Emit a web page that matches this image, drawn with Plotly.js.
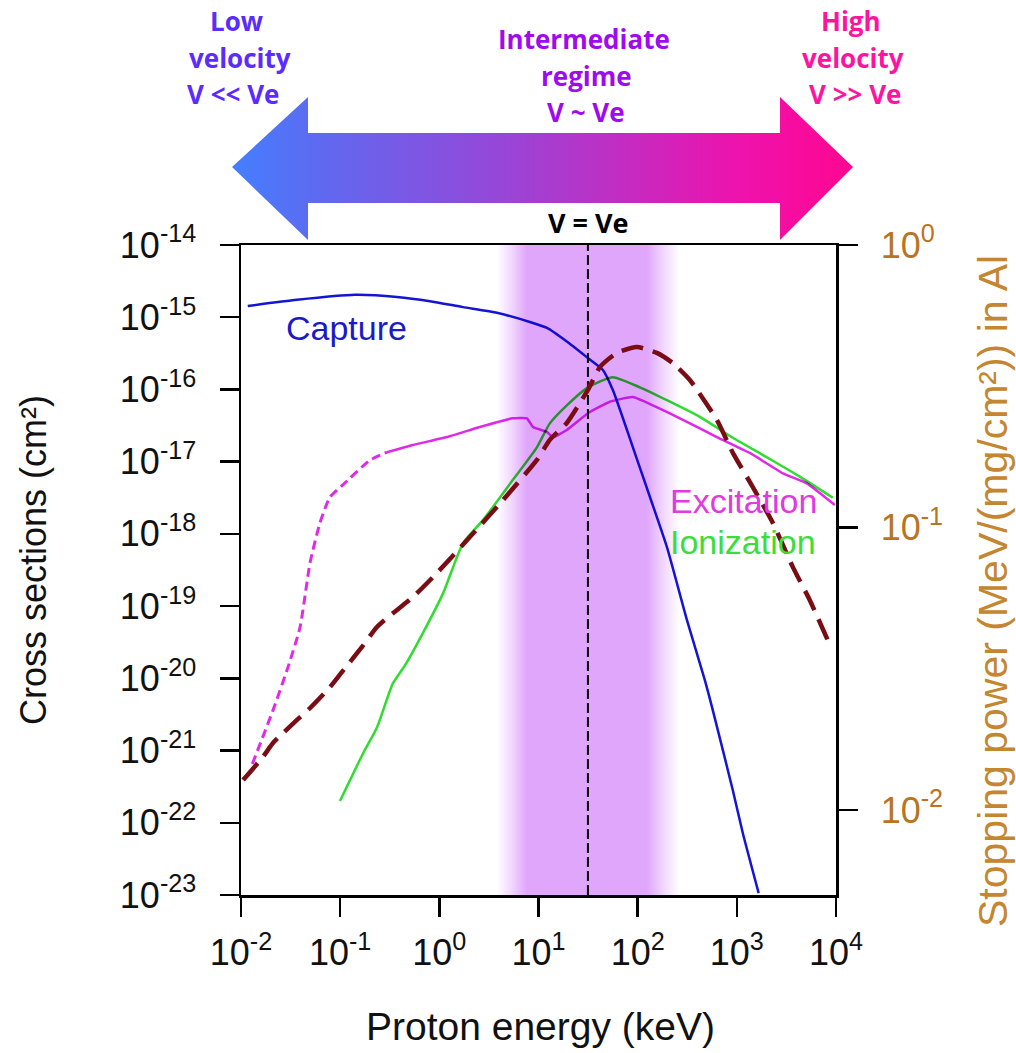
<!DOCTYPE html>
<html><head><meta charset="utf-8">
<script src="https://cdn.plot.ly/plotly-3.0.1.min.js"></script>
<style>
html,body{margin:0;padding:0;background:#fff}
#chart{width:1016px;height:1053px}
.traceion path.js-line,.tracecap path.js-line,.traceexc path.js-line{mix-blend-mode:multiply}
</style>
</head><body><div id="chart"></div>
<script>
// ---------- DATA ----------
const captureE     = [0.0117, 0.0367, 0.141, 0.374, 0.804, 1.73, 3.81, 8.18, 12.2, 19.3, 31.5, 44.6, 56.2, 89.5, 133, 197, 313, 475, 573, 912, 1148, 1660];
const captureSigma = [1.43e-15, 1.74e-15, 2.04e-15, 1.91e-15, 1.67e-15, 1.38e-15, 1.15e-15, 8.6e-16, 7.1e-16, 4.6e-16, 2.72e-16, 1.86e-16, 9.8e-17, 1.58e-17, 3.24e-18, 6.6e-19, 6.5e-20, 9.5e-21, 3.6e-21, 2.8e-22, 7.2e-23, 1.06e-23];

const excitLowE     = [0.013, 0.021, 0.0298, 0.0394, 0.0497, 0.0625, 0.0789, 0.107, 0.200, 0.296];
const excitLowSigma = [6.5e-22, 3.6e-21, 1.43e-20, 5.1e-20, 4.0e-19, 1.41e-18, 3.24e-18, 4.8e-18, 1.05e-17, 1.35e-17];
const excitE     = [0.296, 0.542, 1.19, 2.56, 5.52, 7.64, 8.79, 12.2, 14.0, 19.3, 31.5, 52.5, 89.5, 142, 286, 628, 1352, 2911, 5082, 9727];
const excitSigma = [1.35e-17, 1.70e-17, 2.19e-17, 3.02e-17, 3.98e-17, 3.98e-17, 3.02e-17, 2.57e-17, 2.19e-17, 2.75e-17, 4.68e-17, 6.76e-17, 7.85e-17, 6.03e-17, 3.80e-17, 2.19e-17, 1.32e-17, 6.9e-18, 5.0e-18, 2.51e-18];

const ionE     = [0.0995, 0.170, 0.235, 0.340, 0.450, 0.684, 1.09, 1.73, 2.75, 5.52, 9.64, 13.0, 19.3, 31.5, 56.2, 105, 197, 424, 912, 2004, 4315, 9290];
const ionSigma = [2.0e-22, 9.1e-22, 2.09e-21, 8.5e-21, 1.51e-20, 4.27e-20, 1.5e-19, 7.4e-19, 1.55e-18, 5.6e-18, 1.58e-17, 3.39e-17, 6.03e-17, 1.07e-16, 1.48e-16, 1.07e-16, 7.1e-17, 4.17e-17, 2.14e-17, 1.15e-17, 6.2e-18, 3.16e-18];

const stopE     = [0.0105, 0.01667, 0.021, 0.0367, 0.0497, 0.0789, 0.104, 0.166, 0.235, 0.374, 0.542, 0.946, 2.03, 4.38, 9.64, 13.0, 19.3, 31.5, 41.6, 61.7, 98.2, 156, 226, 336, 628, 912, 1449, 2307, 3673, 5445, 8670];
const stopPower = [0.01276, 0.01542, 0.01726, 0.02084, 0.02296, 0.02723, 0.03076, 0.03776, 0.04446, 0.05105, 0.05675, 0.06902, 0.09247, 0.1250, 0.1734, 0.2042, 0.2344, 0.3069, 0.3698, 0.4150, 0.4355, 0.4150, 0.3819, 0.3327, 0.2404, 0.1837, 0.1390, 0.1038, 0.0724, 0.0553, 0.0384];

const veEnergy = 31.5;                 // V = Ve (keV)
const bandCore = [7.6, 124];           // intermediate regime, full shade (keV)
const bandFade = [3.8, 266];           // outer edges of the fade (keV)

const xTickVals = [1e-2, 1e-1, 1, 10, 100, 1e3, 1e4];
const xTickText = ['10<sup>-2</sup>','10<sup>-1</sup>','10<sup>0</sup>','10<sup>1</sup>','10<sup>2</sup>','10<sup>3</sup>','10<sup>4</sup>'];
const yTickVals = [1e-23,1e-22,1e-21,1e-20,1e-19,1e-18,1e-17,1e-16,1e-15,1e-14];
const yTickText = ['10<sup>-23</sup>','10<sup>-22</sup>','10<sup>-21</sup>','10<sup>-20</sup>','10<sup>-19</sup>','10<sup>-18</sup>','10<sup>-17</sup>','10<sup>-16</sup>','10<sup>-15</sup>','10<sup>-14</sup>'];
const y2TickVals = [0.01, 0.1, 1];
const y2TickText = ['10<sup>-2</sup>','10<sup>-1</sup>','10<sup>0</sup>'];

// ---------- LAYOUT GEOMETRY (pixels) ----------
const W = 1016, H = 1053;
const box = {l: 241, r: 836, t: 245, b: 895};
const px = x => x / W, py = y => 1 - y / H;
const TOPH = 242; // height of the top arrow area (kept above the plot)
// double-headed arrow outline in pixel space of the top area
const arrowX = [232, 308, 308, 780, 780, 853, 780, 780, 308, 308, 232];
const arrowY = [167, 97, 133, 133, 97, 167, 240, 203, 203, 240, 167];

const AX = 'Arial, "Liberation Sans", sans-serif';
const OS = '"Open Sans", sans-serif';
const SM = 0.55;
const yLo = yTickVals[0], yHi = yTickVals[yTickVals.length - 1];

// band gradient stops (fractions along the log-x extent of the band)
const lg = Math.log10;
const span = lg(bandFade[1]) - lg(bandFade[0]);
const fA = (lg(bandCore[0]) - lg(bandFade[0])) / span;
const fB = (lg(bandCore[1]) - lg(bandFade[0])) / span;
const BAND = '224,166,252';
const bandScale = [[0, `rgba(${BAND},0)`], [fA * 0.5, `rgba(${BAND},0.45)`], [fA, `rgba(${BAND},1)`],
                   [fB, `rgba(${BAND},1)`], [fB + (1 - fB) * 0.5, `rgba(${BAND},0.45)`], [1, `rgba(${BAND},0)`]];

const traces = [
  { x: arrowX, y: arrowY, xaxis: 'x3', yaxis: 'y3', mode: 'lines', fill: 'toself',
    line: {width: 0, color: 'rgba(0,0,0,0)'},
    fillgradient: {type: 'horizontal', colorscale: [[0,'#447fff'],[0.12,'#5a6cf2'],[0.45,'#9a44d6'],[0.82,'#ee12ac'],[1,'#ff0690']]},
    hoverinfo: 'skip' },
  { x: [bandFade[0], bandFade[1], bandFade[1], bandFade[0], bandFade[0]], y: [yLo, yLo, yHi, yHi, yLo],
    mode: 'lines', fill: 'toself', line: {width: 0, color: 'rgba(0,0,0,0)'},
    fillgradient: {type: 'horizontal', colorscale: bandScale}, hoverinfo: 'skip' },
  { uid: 'cap', x: captureE, y: captureSigma, mode: 'lines', line: {color: '#1414d2', width: 2.5, shape: 'spline', smoothing: SM}, hoverinfo: 'skip' },
  { x: excitLowE, y: excitLowSigma, mode: 'lines', line: {color: '#e02ae8', width: 3, dash: '9px,5px', shape: 'spline', smoothing: SM}, hoverinfo: 'skip' },
  { uid: 'exc', x: excitE, y: excitSigma, mode: 'lines', line: {color: '#e02ae8', width: 2.5, shape: 'spline', smoothing: 0.4}, hoverinfo: 'skip' },
  { uid: 'ion', x: ionE, y: ionSigma, mode: 'lines', line: {color: '#30dc30', width: 2.5, shape: 'spline', smoothing: SM}, hoverinfo: 'skip' },
  { x: stopE, y: stopPower, yaxis: 'y2', mode: 'lines', line: {color: '#7a0c14', width: 4.5, dash: '22px,10px', shape: 'spline', smoothing: SM}, hoverinfo: 'skip' },
  { x: [veEnergy, veEnergy], y: [yLo, yHi], mode: 'lines', line: {color: '#000', width: 2, dash: '10px,4px'}, hoverinfo: 'skip' }
];

function ann(text, x, y, size, color, opts) {
  return Object.assign({text, x: px(x), y: py(y), xref: 'paper', yref: 'paper', showarrow: false,
    xanchor: 'center', yanchor: 'middle', font: {family: AX, size, color}}, opts || {});
}
const bold = (size, color) => ({family: OS, size, color, weight: 700});
const TS = 26;

const annotations = [
  // top regime labels
  ann('Low', 236, 21, TS, '#5a2cff', {font: bold(TS, '#5a2cff')}),
  ann('velocity', 240, 58, TS, '#5a2cff', {font: bold(TS, '#5a2cff')}),
  ann('V << Ve', 233, 94, TS, '#5a2cff', {font: bold(TS, '#5a2cff')}),
  ann('Intermediate', 584, 39, TS, '#a00af0', {font: bold(TS, '#a00af0')}),
  ann('regime', 586, 76, TS, '#a00af0', {font: bold(TS, '#a00af0')}),
  ann('V ~ Ve', 586, 112, TS, '#a00af0', {font: bold(TS, '#a00af0')}),
  ann('High', 851, 21, TS, '#ff14a0', {font: bold(TS, '#ff14a0')}),
  ann('velocity', 853, 58, TS, '#ff14a0', {font: bold(TS, '#ff14a0')}),
  ann('V >> Ve', 855, 94, TS, '#ff14a0', {font: bold(TS, '#ff14a0')}),
  ann('V = Ve', 588, 223, 27, '#000', {font: bold(27, '#000')}),
  // curve labels
  ann('Capture', 346, 328, 34, '#1a1ac8'),
  ann('Excitation', 668, 501, 34, '#e03ae0', {xanchor: 'left'}),
  ann('Ionization', 668, 542, 34, '#3ade3a', {xanchor: 'left'}),
  // axis titles
  ann('Cross sections (cm²)', 33, 560, 36, '#111', {textangle: -90}),
  ann('Proton energy (keV)', 540, 1026, 39, '#111'),
  ann('Stopping power (MeV/(mg/cm²)) in Al', 993, 591, 41, '#c4862e', {textangle: -90})
];

const axBase = {showline: true, linecolor: '#000', linewidth: 2.5, ticks: 'outside', ticklen: 19, tickwidth: 2.5,
  tickcolor: '#000', tickmode: 'array', showgrid: false, zeroline: false, fixedrange: true};

const layout = {
  width: W, height: H, margin: {l: 0, r: 0, t: 0, b: 0},
  paper_bgcolor: '#fff', plot_bgcolor: 'rgba(0,0,0,0)', showlegend: false,
  xaxis: Object.assign({}, axBase, {type: 'log', range: [-2, 4], domain: [px(box.l), px(box.r)], anchor: 'y',
    mirror: true, tickvals: xTickVals, ticktext: xTickText, ticklabelstandoff: 5,
    tickfont: {family: AX, size: 36, color: '#111'}}),
  yaxis: Object.assign({}, axBase, {type: 'log', range: [-23, -14], domain: [py(box.b), py(box.t)], anchor: 'x',
    tickvals: yTickVals, ticktext: yTickText, ticklabelstandoff: 16,
    tickfont: {family: AX, size: 36, color: '#111'}}),
  yaxis2: Object.assign({}, axBase, {type: 'log', range: [-2.301, 0], overlaying: 'y', side: 'right', anchor: 'x',
    tickvals: y2TickVals, ticktext: y2TickText, ticklabelstandoff: 16,
    tickfont: {family: AX, size: 36, color: '#b8741e'}}),
  xaxis3: {domain: [0, 1], range: [0, W], visible: false, fixedrange: true, anchor: 'y3'},
  yaxis3: {domain: [py(TOPH), 1], range: [TOPH, 0], visible: false, fixedrange: true, anchor: 'x3'},
  annotations
};

Plotly.newPlot('chart', traces, layout, {displayModeBar: false, staticPlot: true});
</script>
</body></html>
